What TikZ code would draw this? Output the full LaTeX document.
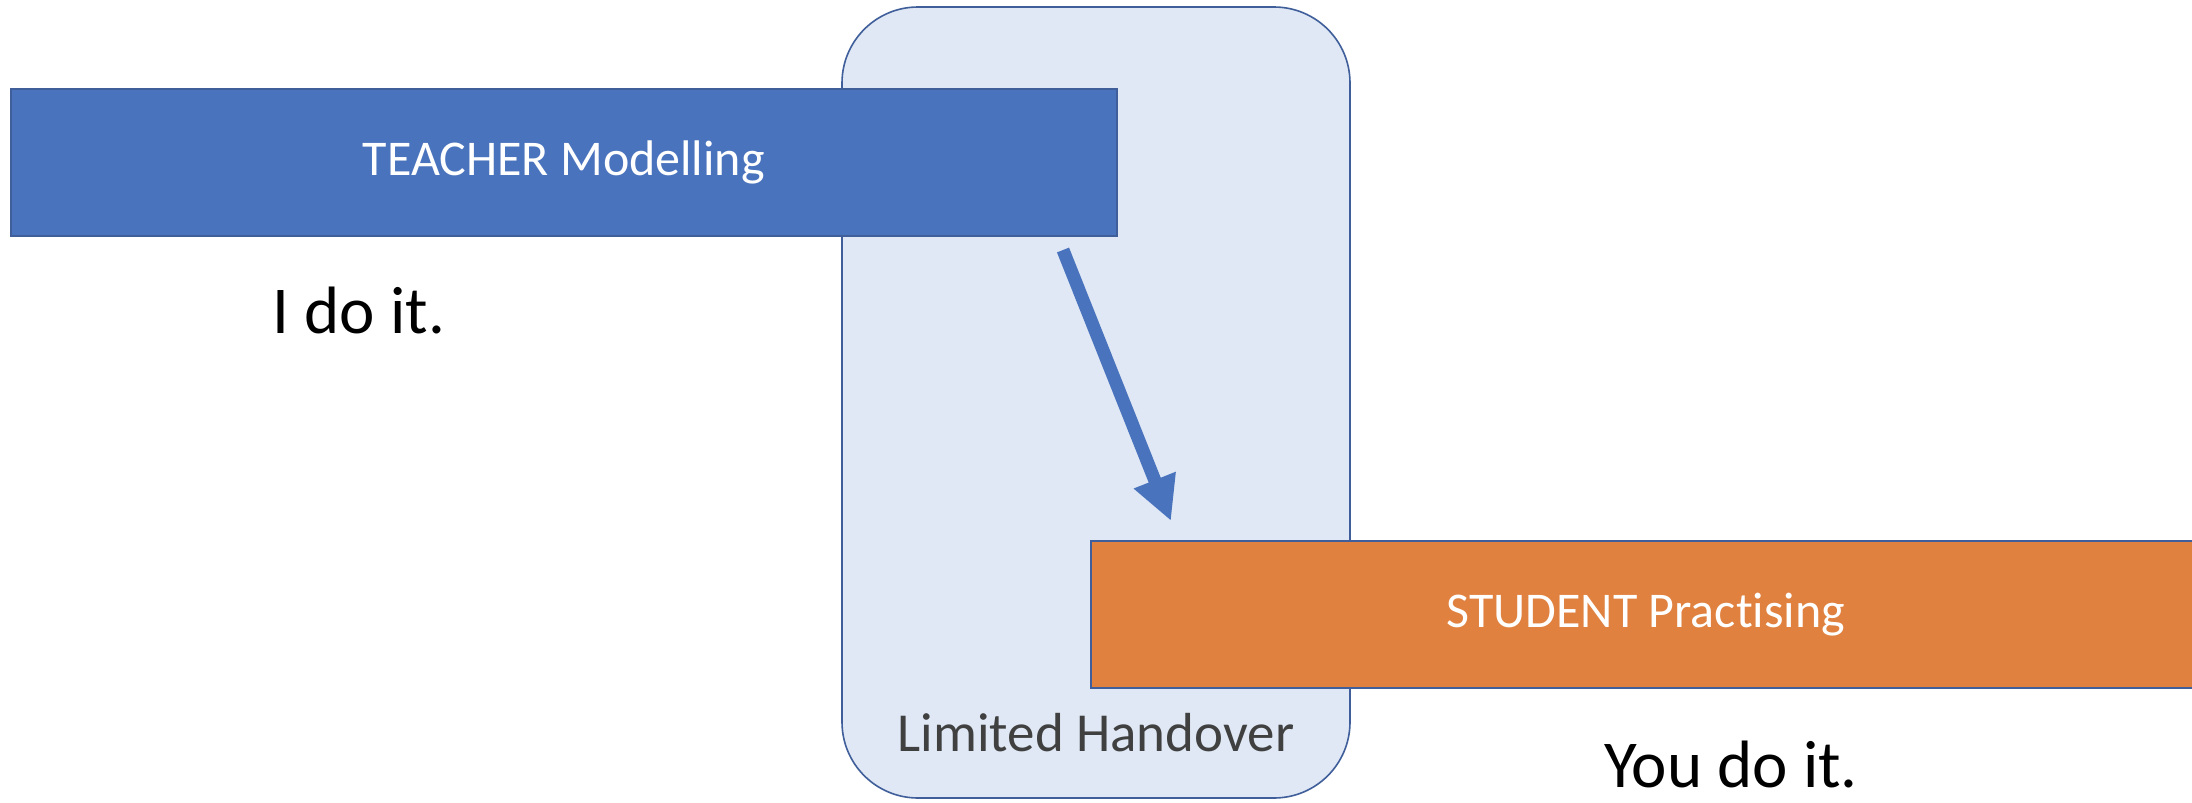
\documentclass[tikz,border=0pt]{standalone}
\usepackage{fontspec}
\setmainfont{Carlito}[Ligatures=CommonOff]
\usetikzlibrary{arrows.meta}
\definecolor{barblue}{HTML}{4A73BE}
\definecolor{barorange}{HTML}{E0813F}
\definecolor{edgeblue}{HTML}{3F5E9A}
\definecolor{zonefill}{HTML}{DFE8F4}
\definecolor{labelgray}{HTML}{404040}
\tikzset{
  bar/.style={draw=edgeblue, line width=0.8pt, minimum height=73.5pt,
    inner sep=0pt, text=white, font=\fontsize{25}{30}\selectfont},
  zone/.style={draw=edgeblue, line width=0.8pt, fill=zonefill, rounded corners=38pt},
  saying/.style={font=\fontsize{33.5}{40}\selectfont, text=black, inner sep=0pt},
  handoff/.style={draw=barblue, line width=6.5pt,
    -{Triangle[width=21pt,length=22pt]}}
}
\begin{document}
\begin{tikzpicture}[x=0.5pt, y=-0.5pt]
  \clip (0,0) rectangle (2192,803);
  \useasboundingbox (0,0) rectangle (2192,803);
  \fill[white] (0,0) rectangle (2192,803);

  % handover zone
  \draw[zone] (842,7) rectangle (1350,798);
  \node[anchor=base, text=labelgray, font=\fontsize{27.5}{33}\selectfont, inner sep=0pt]
    (zonelabel) at (1096,751) {Limited Handover};

  % the two phases
  \node[bar, fill=barblue, minimum width=553pt, anchor=north west]
    (teacher) at (10,88) {TEACHER Modelling};
  \node[bar, fill=barorange, minimum width=555pt, anchor=north west]
    (student) at (1090,540) {STUDENT Practising};

  \node[saying] (ido) at (359,310) {I do it.};
  \node[saying] (youdo) at (1731,764) {You do it.};

  % passing responsibility over
  \coordinate (from) at (1063,250);
  \coordinate (to) at (1171,521);
  \draw[handoff] (from) -- (to);
\end{tikzpicture}
\end{document}
